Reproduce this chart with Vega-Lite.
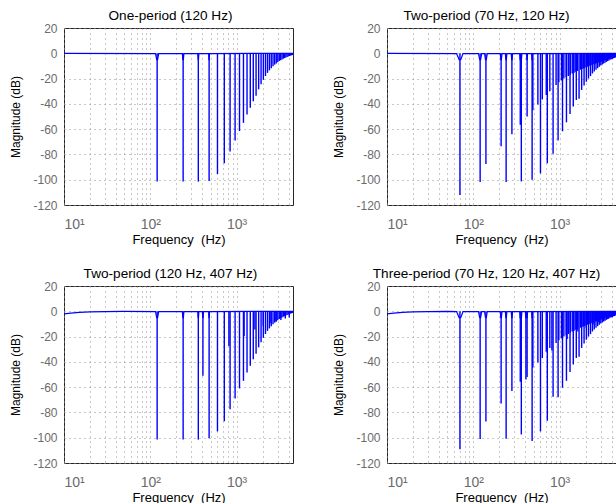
{
  "$schema": "https://vega.github.io/schema/vega-lite/v6.json",
  "padding": {"left": 9, "top": 8, "right": 0, "bottom": 0},
  "background": "white",
  "config": {
    "font": "Liberation Sans",
    "view": {"stroke": "#262626", "strokeWidth": 1},
    "axis": {
      "labelFont": "Liberation Sans", "labelFontSize": 12, "labelColor": "#6b6b6b",
      "titleFont": "Liberation Sans", "titleFontSize": 12, "titleFontWeight": "normal", "titleColor": "#000000",
      "grid": true, "gridColor": "#909090", "gridDash": [1, 4], "gridWidth": 1,
      "domain": false, "ticks": false, "labelOverlap": false
    },
    "axisX": {"labelPadding": 12, "titlePadding": 2, "labelFontSize": 14, "titleFontSize": 13},
    "axisY": {"labelPadding": 7, "titlePadding": 10},
    "title": {"font": "Liberation Sans", "fontSize": 13.6, "fontWeight": "normal", "color": "#000000", "offset": -1},
    "line": {"color": "#0000ff", "strokeWidth": 1.2},
    "rule": {"color": "#0000ff", "strokeWidth": 1.4}
  },
  "spacing": 19,
  "vconcat": [
    {
      "spacing": 38,
      "hconcat": [
        {
          "title": {"text": "One-period (120 Hz)", "dx": -8}, "width": 229, "height": 177,
          "encoding": {
            "x": {"field": "f", "type": "quantitative", "scale": {"type": "log", "domain": [10, 4500], "nice": false},
              "axis": {"title": "Frequency\u00a0\u00a0(Hz)", "values": [10,20,30,40,50,60,70,80,90,100,200,300,400,500,600,700,800,900,1000,2000,3000,4000],
                "labelExpr": "datum.value == 10 ? '10¹' : datum.value == 100 ? '10²' : datum.value == 1000 ? '10³' : ''"}},
            "y": {"field": "d", "type": "quantitative", "scale": {"domain": [-120, 20], "nice": false},
              "axis": {"title": "Magnitude (dB)", "values": [-120,-100,-80,-60,-40,-20,0,20], "labelExpr": "toString(datum.value)"}}
          },
          "layer": [
            {"data": {"name": "b1"}, "mark": {"type": "line", "clip": true}},
            {"data": {"name": "n1"}, "mark": {"type": "rule", "clip": true}, "encoding": {"y2": {"datum": 0}}}
          ]
        },
        {
          "title": {"text": "Two-period (70 Hz, 120 Hz)", "dx": -15}, "width": 229, "height": 177,
          "encoding": {
            "x": {"field": "f", "type": "quantitative", "scale": {"type": "log", "domain": [10, 4500], "nice": false},
              "axis": {"title": "Frequency\u00a0\u00a0(Hz)", "values": [10,20,30,40,50,60,70,80,90,100,200,300,400,500,600,700,800,900,1000,2000,3000,4000],
                "labelExpr": "datum.value == 10 ? '10¹' : datum.value == 100 ? '10²' : datum.value == 1000 ? '10³' : ''"}},
            "y": {"field": "d", "type": "quantitative", "scale": {"domain": [-120, 20], "nice": false},
              "axis": {"title": "Magnitude (dB)", "values": [-120,-100,-80,-60,-40,-20,0,20], "labelExpr": "toString(datum.value)"}}
          },
          "layer": [
            {"data": {"name": "b2"}, "mark": {"type": "line", "clip": true}},
            {"data": {"name": "n2"}, "mark": {"type": "rule", "clip": true}, "encoding": {"y2": {"datum": 0}}}
          ]
        }
      ]
    },
    {
      "spacing": 38,
      "hconcat": [
        {
          "title": {"text": "Two-period (120 Hz, 407 Hz)", "dx": -8}, "width": 229, "height": 177,
          "encoding": {
            "x": {"field": "f", "type": "quantitative", "scale": {"type": "log", "domain": [10, 4500], "nice": false},
              "axis": {"title": "Frequency\u00a0\u00a0(Hz)", "values": [10,20,30,40,50,60,70,80,90,100,200,300,400,500,600,700,800,900,1000,2000,3000,4000],
                "labelExpr": "datum.value == 10 ? '10¹' : datum.value == 100 ? '10²' : datum.value == 1000 ? '10³' : ''"}},
            "y": {"field": "d", "type": "quantitative", "scale": {"domain": [-120, 20], "nice": false},
              "axis": {"title": "Magnitude (dB)", "values": [-120,-100,-80,-60,-40,-20,0,20], "labelExpr": "toString(datum.value)"}}
          },
          "layer": [
            {"data": {"name": "b3"}, "mark": {"type": "line", "clip": true}},
            {"data": {"name": "n3"}, "mark": {"type": "rule", "clip": true}, "encoding": {"y2": {"datum": 0}}}
          ]
        },
        {
          "title": {"text": "Three-period (70 Hz, 120 Hz, 407 Hz)", "dx": -15}, "width": 229, "height": 177,
          "encoding": {
            "x": {"field": "f", "type": "quantitative", "scale": {"type": "log", "domain": [10, 4500], "nice": false},
              "axis": {"title": "Frequency\u00a0\u00a0(Hz)", "values": [10,20,30,40,50,60,70,80,90,100,200,300,400,500,600,700,800,900,1000,2000,3000,4000],
                "labelExpr": "datum.value == 10 ? '10¹' : datum.value == 100 ? '10²' : datum.value == 1000 ? '10³' : ''"}},
            "y": {"field": "d", "type": "quantitative", "scale": {"domain": [-120, 20], "nice": false},
              "axis": {"title": "Magnitude (dB)", "values": [-120,-100,-80,-60,-40,-20,0,20], "labelExpr": "toString(datum.value)"}}
          },
          "layer": [
            {"data": {"name": "b4"}, "mark": {"type": "line", "clip": true}},
            {"data": {"name": "n4"}, "mark": {"type": "rule", "clip": true}, "encoding": {"y2": {"datum": 0}}}
          ]
        }
      ]
    }
  ],
  "datasets": {
    "b1": [
      {"f":10,"d":0},
      {"f":115,"d":-0.2},{"f":118.5,"d":-5},{"f":121.5,"d":-5},{"f":125,"d":-0.2},
      {"f":235,"d":-0.2},{"f":238.5,"d":-5},{"f":241.5,"d":-5},{"f":245,"d":-0.2},
      {"f":355,"d":-0.2},{"f":358.5,"d":-5},{"f":361.5,"d":-5},{"f":365,"d":-0.2},
      {"f":475,"d":-0.2},{"f":478.5,"d":-5},{"f":481.5,"d":-5},{"f":485,"d":-0.2},
      {"f":4500,"d":0}
    ],
    "n1": [
      {"f":120,"d":-101.5},{"f":240,"d":-101.5},{"f":360,"d":-101.5},{"f":480,"d":-101},{"f":600,"d":-95.5},
      {"f":720,"d":-87},{"f":840,"d":-77.7},{"f":960,"d":-69},{"f":1080,"d":-61.5},{"f":1200,"d":-55},
      {"f":1320,"d":-48.4},{"f":1440,"d":-43},{"f":1560,"d":-38},{"f":1680,"d":-33.5},{"f":1800,"d":-28.5},
      {"f":1920,"d":-24.5},{"f":2040,"d":-21},{"f":2160,"d":-18},{"f":2280,"d":-15.5},{"f":2400,"d":-13.5},
      {"f":2520,"d":-11.8},{"f":2640,"d":-10.3},{"f":2760,"d":-9},{"f":2880,"d":-8},{"f":3000,"d":-7},
      {"f":3120,"d":-6.2},{"f":3240,"d":-5.5},{"f":3360,"d":-4.9},{"f":3480,"d":-4.3},{"f":3600,"d":-3.8},
      {"f":3720,"d":-3.3},{"f":3840,"d":-2.9},{"f":3960,"d":-2.5},{"f":4080,"d":-2.2},{"f":4200,"d":-1.9},
      {"f":4320,"d":-1.6},{"f":4440,"d":-1.3}
    ],
    "b2": [
      {"f":10,"d":0},
      {"f":64,"d":-0.2},{"f":68.5,"d":-5},{"f":71.5,"d":-5},{"f":76,"d":-0.2},
      {"f":115,"d":-0.2},{"f":118.5,"d":-5},{"f":121.5,"d":-5},{"f":125,"d":-0.2},
      {"f":135,"d":-0.2},{"f":138.5,"d":-5},{"f":141.5,"d":-5},{"f":145,"d":-0.2},
      {"f":205,"d":-0.2},{"f":208.5,"d":-5},{"f":211.5,"d":-5},{"f":215,"d":-0.2},
      {"f":235,"d":-0.2},{"f":238.5,"d":-5},{"f":241.5,"d":-5},{"f":245,"d":-0.2},
      {"f":275,"d":-0.2},{"f":278.5,"d":-5},{"f":281.5,"d":-5},{"f":285,"d":-0.2},
      {"f":345,"d":-0.2},{"f":348.5,"d":-5},{"f":351.5,"d":-5},{"f":355,"d":-0.2},
      {"f":358.5,"d":-5},{"f":361.5,"d":-5},{"f":365,"d":-0.2},
      {"f":415,"d":-0.2},{"f":418.5,"d":-5},{"f":421.5,"d":-5},{"f":425,"d":-0.2},
      {"f":475,"d":-0.2},{"f":478.5,"d":-5},{"f":481.5,"d":-5},{"f":485,"d":-0.2},
      {"f":4500,"d":0}
    ],
    "n2": [
      {"f":70,"d":-112},{"f":140,"d":-87.5},{"f":210,"d":-73.5},{"f":280,"d":-64},{"f":350,"d":-56.5},
      {"f":420,"d":-50},{"f":490,"d":-45},{"f":560,"d":-40.5},{"f":630,"d":-36.5},{"f":700,"d":-33},
      {"f":770,"d":-30},{"f":840,"d":-79.5},{"f":910,"d":-25},{"f":980,"d":-23},{"f":1050,"d":-21.5},
      {"f":1120,"d":-20},{"f":1190,"d":-19},{"f":1260,"d":-18},{"f":1330,"d":-17},{"f":1400,"d":-16},
      {"f":1470,"d":-15.3},{"f":1540,"d":-14.6},{"f":1610,"d":-14},{"f":1680,"d":-36},{"f":1750,"d":-13},
      {"f":1820,"d":-12.5},{"f":1890,"d":-12},{"f":1960,"d":-11.5},{"f":2030,"d":-11},{"f":2100,"d":-10.6},
      {"f":2170,"d":-10.2},{"f":2240,"d":-9.8},{"f":2310,"d":-9.4},{"f":2380,"d":-9},{"f":2450,"d":-8.7},
      {"f":2520,"d":-14.5},{"f":2590,"d":-8.2},{"f":2660,"d":-7.9},{"f":2730,"d":-7.6},{"f":2800,"d":-7.3},
      {"f":2870,"d":-7},{"f":2940,"d":-6.8},{"f":3010,"d":-6.5},{"f":3080,"d":-6.3},{"f":3150,"d":-6},
      {"f":3220,"d":-5.8},{"f":3290,"d":-5.6},{"f":3360,"d":-7.5},{"f":3430,"d":-5.2},{"f":3500,"d":-5},
      {"f":3570,"d":-4.8},{"f":3640,"d":-4.6},{"f":3710,"d":-4.4},{"f":3780,"d":-4.2},{"f":3850,"d":-4},
      {"f":3920,"d":-3.9},{"f":3990,"d":-3.7},{"f":4060,"d":-3.5},{"f":4130,"d":-3.4},{"f":4200,"d":-4},
      {"f":4270,"d":-3.1},{"f":4340,"d":-3},{"f":4410,"d":-2.9},
      {"f":120,"d":-101.8},{"f":240,"d":-101.8},{"f":360,"d":-101.3},{"f":480,"d":-100},{"f":600,"d":-95},
      {"f":720,"d":-87},{"f":960,"d":-69},{"f":1080,"d":-61.7},{"f":1200,"d":-54.6},{"f":1320,"d":-48},
      {"f":1440,"d":-42},{"f":1560,"d":-37},{"f":1800,"d":-29},{"f":1920,"d":-25.5},{"f":2040,"d":-22.5},
      {"f":2160,"d":-20},{"f":2280,"d":-18},{"f":2400,"d":-16},{"f":2640,"d":-13},{"f":2760,"d":-11.8},
      {"f":2880,"d":-10.7},{"f":3000,"d":-9.7},{"f":3120,"d":-8.9},{"f":3240,"d":-8.1},{"f":3480,"d":-6.8},
      {"f":3600,"d":-6.2},{"f":3720,"d":-5.7},{"f":3840,"d":-5.2},{"f":3960,"d":-4.8},{"f":4080,"d":-4.4},
      {"f":4320,"d":-3.7},{"f":4440,"d":-3.4}
    ],
    "b3": [
      {"f":10,"d":-2},{"f":12,"d":-1.4},{"f":15,"d":-0.9},{"f":20,"d":-0.5},{"f":30,"d":-0.2},{"f":50,"d":-0.05},
      {"f":115,"d":-0.2},{"f":118.5,"d":-5},{"f":121.5,"d":-5},{"f":125,"d":-0.2},
      {"f":235,"d":-0.2},{"f":238.5,"d":-5},{"f":241.5,"d":-5},{"f":245,"d":-0.2},
      {"f":355,"d":-0.2},{"f":358.5,"d":-5},{"f":361.5,"d":-5},{"f":365,"d":-0.2},
      {"f":401,"d":-0.2},{"f":405.5,"d":-5},{"f":408.5,"d":-5},{"f":413,"d":-0.2},
      {"f":475,"d":-0.2},{"f":478.5,"d":-5},{"f":481.5,"d":-5},{"f":485,"d":-0.2},
      {"f":4500,"d":0}
    ],
    "n3": [
      {"f":120,"d":-101.5},{"f":240,"d":-101.5},{"f":360,"d":-101.5},{"f":480,"d":-100.5},{"f":600,"d":-95},
      {"f":720,"d":-87},{"f":840,"d":-77.5},{"f":960,"d":-69},{"f":1080,"d":-61},{"f":1200,"d":-55},
      {"f":1320,"d":-48.4},{"f":1440,"d":-43},{"f":1560,"d":-38},{"f":1680,"d":-33.5},{"f":1800,"d":-28.5},
      {"f":1920,"d":-24.5},{"f":2040,"d":-21},{"f":2160,"d":-18},{"f":2280,"d":-15.5},{"f":2400,"d":-13.5},
      {"f":2520,"d":-11.8},{"f":2640,"d":-10.3},{"f":2760,"d":-9},{"f":2880,"d":-8},{"f":3000,"d":-7},
      {"f":3120,"d":-6.2},{"f":3240,"d":-5.5},{"f":3360,"d":-4.9},{"f":3480,"d":-4.3},{"f":3600,"d":-3.8},
      {"f":3720,"d":-3.3},{"f":3840,"d":-2.9},{"f":3960,"d":-2.5},{"f":4080,"d":-2.2},{"f":4200,"d":-1.9},
      {"f":4320,"d":-1.6},{"f":4440,"d":-1.3},
      {"f":407,"d":-51},{"f":814,"d":-27.5},{"f":1221,"d":-19.5},{"f":1628,"d":-14.5},{"f":2035,"d":-11.5},
      {"f":2442,"d":-9.5},{"f":2849,"d":-8},{"f":3256,"d":-6.8},{"f":3663,"d":-5.8},{"f":4070,"d":-5}
    ],
    "b4": [
      {"f":10,"d":-2},{"f":12,"d":-1.4},{"f":15,"d":-0.9},{"f":20,"d":-0.5},{"f":30,"d":-0.2},{"f":50,"d":-0.05},
      {"f":64,"d":-0.2},{"f":68.5,"d":-5},{"f":71.5,"d":-5},{"f":76,"d":-0.2},
      {"f":115,"d":-0.2},{"f":118.5,"d":-5},{"f":121.5,"d":-5},{"f":125,"d":-0.2},
      {"f":135,"d":-0.2},{"f":138.5,"d":-5},{"f":141.5,"d":-5},{"f":145,"d":-0.2},
      {"f":205,"d":-0.2},{"f":208.5,"d":-5},{"f":211.5,"d":-5},{"f":215,"d":-0.2},
      {"f":235,"d":-0.2},{"f":238.5,"d":-5},{"f":241.5,"d":-5},{"f":245,"d":-0.2},
      {"f":275,"d":-0.2},{"f":278.5,"d":-5},{"f":281.5,"d":-5},{"f":285,"d":-0.2},
      {"f":345,"d":-0.2},{"f":348.5,"d":-5},{"f":351.5,"d":-5},{"f":355,"d":-0.2},
      {"f":358.5,"d":-5},{"f":361.5,"d":-5},{"f":365,"d":-0.2},
      {"f":401,"d":-0.2},{"f":405.5,"d":-5},{"f":408.5,"d":-5},{"f":413,"d":-0.2},
      {"f":415,"d":-0.2},{"f":418.5,"d":-5},{"f":421.5,"d":-5},{"f":425,"d":-0.2},
      {"f":475,"d":-0.2},{"f":478.5,"d":-5},{"f":481.5,"d":-5},{"f":485,"d":-0.2},
      {"f":4500,"d":0}
    ],
    "n4": [
      {"f":70,"d":-109.2},{"f":120,"d":-101},{"f":140,"d":-87.2},{"f":210,"d":-73},{"f":240,"d":-100.8},
      {"f":280,"d":-63},{"f":350,"d":-55.8},{"f":360,"d":-97.4},{"f":407,"d":-54},{"f":420,"d":-52},
      {"f":480,"d":-102.6},{"f":490,"d":-44.5},{"f":560,"d":-40.6},{"f":600,"d":-95},{"f":630,"d":-37},
      {"f":700,"d":-32},{"f":720,"d":-86.6},{"f":770,"d":-29},{"f":814,"d":-31},{"f":840,"d":-67.5},
      {"f":910,"d":-25},{"f":960,"d":-68},{"f":980,"d":-23},{"f":1050,"d":-21.5},{"f":1080,"d":-60.5},
      {"f":1120,"d":-20},{"f":1190,"d":-19},{"f":1200,"d":-55},{"f":1221,"d":-22},{"f":1260,"d":-18},
      {"f":1320,"d":-48},{"f":1330,"d":-17},{"f":1400,"d":-16},{"f":1440,"d":-42},{"f":1470,"d":-15.3},
      {"f":1540,"d":-14.6},{"f":1560,"d":-37},{"f":1610,"d":-14},{"f":1628,"d":-16},{"f":1680,"d":-36},
      {"f":1750,"d":-13},{"f":1800,"d":-29},{"f":1820,"d":-12.5},{"f":1890,"d":-12},{"f":1920,"d":-25.5},
      {"f":1960,"d":-11.5},{"f":2030,"d":-11},{"f":2035,"d":-13},{"f":2040,"d":-22.5},{"f":2100,"d":-10.6},
      {"f":2160,"d":-20},{"f":2170,"d":-10.2},{"f":2240,"d":-9.8},{"f":2280,"d":-18},{"f":2310,"d":-9.4},
      {"f":2380,"d":-9},{"f":2400,"d":-16},{"f":2442,"d":-10.5},{"f":2450,"d":-8.7},{"f":2520,"d":-14.5},
      {"f":2590,"d":-8.2},{"f":2640,"d":-13},{"f":2660,"d":-7.9},{"f":2730,"d":-7.6},{"f":2760,"d":-11.8},
      {"f":2800,"d":-7.3},{"f":2849,"d":-8.5},{"f":2870,"d":-7},{"f":2880,"d":-10.7},{"f":2940,"d":-6.8},
      {"f":3000,"d":-9.7},{"f":3010,"d":-6.5},{"f":3080,"d":-6.3},{"f":3120,"d":-8.9},{"f":3150,"d":-6},
      {"f":3220,"d":-5.8},{"f":3240,"d":-8.1},{"f":3256,"d":-7},{"f":3290,"d":-5.6},{"f":3360,"d":-7.5},
      {"f":3430,"d":-5.2},{"f":3480,"d":-6.8},{"f":3500,"d":-5},{"f":3570,"d":-4.8},{"f":3600,"d":-6.2},
      {"f":3640,"d":-4.6},{"f":3663,"d":-5.8},{"f":3710,"d":-4.4},{"f":3720,"d":-5.7},{"f":3780,"d":-4.2},
      {"f":3840,"d":-5.2},{"f":3850,"d":-4},{"f":3920,"d":-3.9},{"f":3960,"d":-4.8},{"f":3990,"d":-3.7},
      {"f":4060,"d":-3.5},{"f":4070,"d":-4.8},{"f":4080,"d":-4.4},{"f":4130,"d":-3.4},{"f":4200,"d":-4},
      {"f":4270,"d":-3.1},{"f":4320,"d":-3.7},{"f":4340,"d":-3},{"f":4410,"d":-2.9},{"f":4440,"d":-3.4}
    ]
  }
}
